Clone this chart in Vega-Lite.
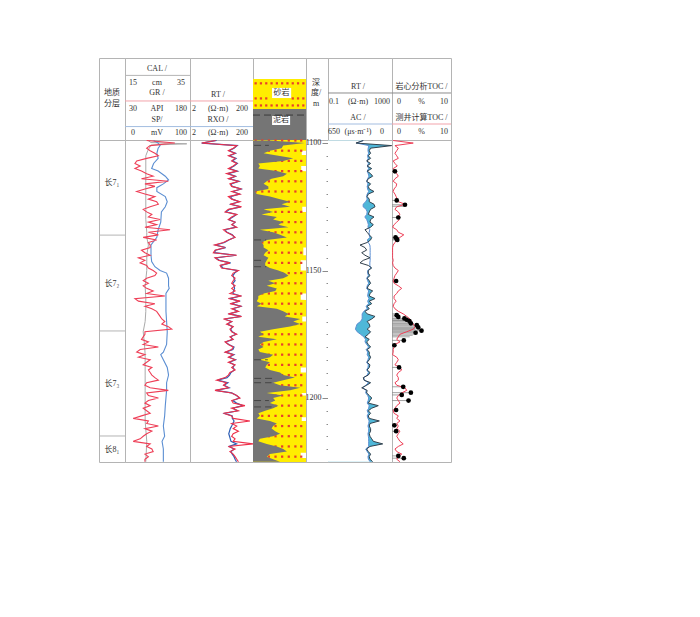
{"$schema":"https://vega.github.io/schema/vega-lite/v6.json","background":"white","padding":{"left":98,"top":57,"right":0,"bottom":0},"autosize":{"type":"pad"},"columns":7,"align":"each","spacing":0,"bounds":"flush","resolve":{"scale":{"color":"independent"}},
"config":{"view":{"stroke":"#b4b4b4","strokeWidth":1},"text":{"font":"Liberation Serif, Noto Sans CJK SC","fontSize":8,"color":"#333333"}},
"datasets":{
"log":[
{"depth":1099,"gr":80,"rt":13,"rxo":14,"mud":32,"rt2":16,"ac":291,"toc":0.2},
{"depth":1100,"gr":145,"rt":4.7,"rxo":4.7,"mud":98,"rt2":5.6,"ac":359,"toc":3.6},
{"depth":1101,"gr":88,"rt":61,"rxo":63,"mud":57,"rt2":950,"ac":235,"toc":0.5},
{"depth":1102,"gr":80,"rt":47,"rxo":50,"mud":54,"rt2":46,"ac":242,"toc":1.07},
{"depth":1103,"gr":88,"rt":33,"rxo":35,"mud":32,"rt2":38,"ac":244,"toc":0.8},
{"depth":1104,"gr":99,"rt":54,"rxo":56,"mud":20,"rt2":46,"ac":238,"toc":0.5},
{"depth":1105,"gr":107,"rt":33,"rxo":36,"mud":48,"rt2":33,"ac":248,"toc":0.8},
{"depth":1106,"gr":80,"rt":54,"rxo":58,"mud":76,"rt2":46,"ac":242,"toc":1.07},
{"depth":1107,"gr":57,"rt":42,"rxo":44,"mud":57,"rt2":26,"ac":252,"toc":0.2},
{"depth":1108,"gr":53,"rt":61,"rxo":64,"mud":10,"rt2":46,"ac":240,"toc":0.5},
{"depth":1109,"gr":65,"rt":47,"rxo":50,"mud":13,"rt2":28,"ac":250,"toc":0.9},
{"depth":1110,"gr":53,"rt":33,"rxo":36,"mud":10,"rt2":54,"ac":237,"toc":0.2},
{"depth":1111,"gr":68,"rt":61,"rxo":64,"mud":45,"rt2":28,"ac":252,"toc":0.5},
{"depth":1112,"gr":80,"rt":29,"rxo":32,"mud":64,"rt2":46,"ac":242,"toc":0.8},
{"depth":1113,"gr":95,"rt":54,"rxo":56,"mud":57,"rt2":62,"ac":234,"toc":1.07},
{"depth":1114,"gr":68,"rt":33,"rxo":36,"mud":35,"rt2":33,"ac":247,"toc":0.5},
{"depth":1115,"gr":130,"rt":69,"rxo":72,"mud":26,"rt2":26,"ac":257,"toc":0.2},
{"depth":1116,"gr":76,"rt":37,"rxo":40,"mud":20,"rt2":46,"ac":244,"toc":0.8},
{"depth":1117,"gr":99,"rt":42,"rxo":44,"mud":29,"rt2":33,"ac":252,"toc":0.7},
{"depth":1118,"gr":76,"rt":87,"rxo":84,"mud":29,"rt2":38,"ac":248,"toc":0.35},
{"depth":1119,"gr":57,"rt":42,"rxo":46,"mud":4,"rt2":75,"ac":237,"toc":0.2},
{"depth":1120,"gr":76,"rt":77,"rxo":74,"mud":7,"rt2":33,"ac":252,"toc":0.5},
{"depth":1121,"gr":99,"rt":33,"rxo":38,"mud":32,"rt2":28,"ac":258,"toc":0.7},
{"depth":1122,"gr":84,"rt":42,"rxo":44,"mud":51,"rt2":38,"ac":252,"toc":0.9},
{"depth":1123,"gr":103,"rt":77,"rxo":72,"mud":70,"rt2":38,"ac":267,"toc":1.07},
{"depth":1124,"gr":107,"rt":37,"rxo":40,"mud":54,"rt2":75,"ac":293,"toc":2.2},
{"depth":1125,"gr":88,"rt":87,"rxo":82,"mud":70,"rt2":87,"ac":293,"toc":0.8},
{"depth":1126,"gr":72,"rt":33,"rxo":36,"mud":20,"rt2":46,"ac":262,"toc":0.5},
{"depth":1127,"gr":80,"rt":26,"rxo":28,"mud":38,"rt2":38,"ac":252,"toc":1.07},
{"depth":1128,"gr":92,"rt":61,"rxo":60,"mud":16,"rt2":33,"ac":257,"toc":1.35},
{"depth":1129,"gr":84,"rt":42,"rxo":46,"mud":45,"rt2":75,"ac":276,"toc":0.8},
{"depth":1130,"gr":111,"rt":33,"rxo":34,"mud":38,"rt2":46,"ac":257,"toc":1.25},
{"depth":1131,"gr":84,"rt":54,"rxo":54,"mud":57,"rt2":42,"ac":247,"toc":0.8},
{"depth":1132,"gr":103,"rt":42,"rxo":44,"mud":48,"rt2":68,"ac":240,"toc":0.35},
{"depth":1133,"gr":76,"rt":61,"rxo":58,"mud":67,"rt2":46,"ac":244,"toc":0.1},
{"depth":1134,"gr":134,"rt":23,"rxo":26,"mud":13,"rt2":20.5,"ac":225,"toc":0.8},
{"depth":1135,"gr":84,"rt":29,"rxo":30,"mud":38,"rt2":28,"ac":232,"toc":1.07},
{"depth":1136,"gr":107,"rt":42,"rxo":44,"mud":51,"rt2":38,"ac":232,"toc":2.0},
{"depth":1137,"gr":72,"rt":54,"rxo":52,"mud":64,"rt2":54,"ac":225,"toc":1.35},
{"depth":1138,"gr":103,"rt":33,"rxo":34,"mud":26,"rt2":46,"ac":250,"toc":0.8},
{"depth":1139,"gr":84,"rt":23,"rxo":25,"mud":16,"rt2":28,"ac":240,"toc":0.5},
{"depth":1140,"gr":88,"rt":12,"rxo":13,"mud":20,"rt2":10,"ac":225,"toc":0.2},
{"depth":1141,"gr":88,"rt":26,"rxo":27,"mud":20,"rt2":20.5,"ac":222,"toc":0.1},
{"depth":1142,"gr":68,"rt":12.4,"rxo":13,"mud":29,"rt2":26,"ac":222,"toc":0.1},
{"depth":1143,"gr":76,"rt":11,"rxo":12,"mud":23,"rt2":12.8,"ac":222,"toc":0.1},
{"depth":1144,"gr":88,"rt":61,"rxo":58,"mud":20,"rt2":20.5,"ac":222,"toc":0.1},
{"depth":1145,"gr":61,"rt":12.4,"rxo":13,"mud":29,"rt2":42,"ac":222,"toc":0.1},
{"depth":1146,"gr":76,"rt":16,"rxo":17,"mud":26,"rt2":16,"ac":222,"toc":0.2},
{"depth":1147,"gr":65,"rt":37,"rxo":39,"mud":23,"rt2":10,"ac":225,"toc":0.1},
{"depth":1148,"gr":80,"rt":18,"rxo":19,"mud":23,"rt2":33,"ac":225,"toc":0.2},
{"depth":1149,"gr":84,"rt":20,"rxo":22,"mud":32,"rt2":54,"ac":216,"toc":0.5},
{"depth":1150,"gr":95,"rt":69,"rxo":66,"mud":48,"rt2":33,"ac":247,"toc":1.07},
{"depth":1151,"gr":103,"rt":47,"rxo":52,"mud":60,"rt2":33,"ac":247,"toc":0.8},
{"depth":1152,"gr":99,"rt":42,"rxo":46,"mud":67,"rt2":42,"ac":240,"toc":0.5},
{"depth":1153,"gr":80,"rt":54,"rxo":50,"mud":57,"rt2":28,"ac":257,"toc":0.35},
{"depth":1154,"gr":72,"rt":47,"rxo":54,"mud":29,"rt2":38,"ac":247,"toc":0.2},
{"depth":1155,"gr":84,"rt":42,"rxo":46,"mud":42,"rt2":46,"ac":237,"toc":0.35},
{"depth":1156,"gr":72,"rt":54,"rxo":50,"mud":26,"rt2":33,"ac":252,"toc":1.07},
{"depth":1157,"gr":80,"rt":42,"rxo":52,"mud":45,"rt2":28,"ac":257,"toc":1.65},
{"depth":1158,"gr":95,"rt":54,"rxo":48,"mud":42,"rt2":62,"ac":237,"toc":1.07},
{"depth":1159,"gr":80,"rt":37,"rxo":46,"mud":20,"rt2":42,"ac":244,"toc":0.8},
{"depth":1160,"gr":122,"rt":87,"rxo":78,"mud":10,"rt2":38,"ac":247,"toc":0.35},
{"depth":1161,"gr":53,"rt":33,"rxo":38,"mud":10,"rt2":87,"ac":234,"toc":0.35},
{"depth":1162,"gr":61,"rt":77,"rxo":72,"mud":7,"rt2":38,"ac":247,"toc":0.7},
{"depth":1163,"gr":99,"rt":37,"rxo":42,"mud":16,"rt2":54,"ac":237,"toc":0.35},
{"depth":1164,"gr":76,"rt":87,"rxo":82,"mud":7,"rt2":28,"ac":262,"toc":0.2},
{"depth":1165,"gr":92,"rt":42,"rxo":46,"mud":45,"rt2":38,"ac":252,"toc":0.5},
{"depth":1166,"gr":103,"rt":69,"rxo":66,"mud":57,"rt2":20.5,"ac":286,"toc":1.07},
{"depth":1167,"gr":107,"rt":33,"rxo":36,"mud":67,"rt2":28,"ac":303,"toc":1.9},
{"depth":1168,"gr":111,"rt":87,"rxo":84,"mud":60,"rt2":87,"ac":303,"toc":2.5},
{"depth":1169,"gr":115,"rt":23,"rxo":25,"mud":89,"rt2":54,"ac":303,"toc":3.05},
{"depth":1170,"gr":122,"rt":42,"rxo":42,"mud":76,"rt2":28,"ac":320,"toc":3.3},
{"depth":1171,"gr":115,"rt":29,"rxo":31,"mud":89,"rt2":38,"ac":354,"toc":3.6},
{"depth":1172,"gr":130,"rt":47,"rxo":46,"mud":70,"rt2":42,"ac":364,"toc":3.9},
{"depth":1173,"gr":138,"rt":37,"rxo":39,"mud":38,"rt2":28,"ac":371,"toc":3.6},
{"depth":1174,"gr":76,"rt":42,"rxo":44,"mud":13,"rt2":46,"ac":354,"toc":2.5},
{"depth":1175,"gr":76,"rt":61,"rxo":58,"mud":20,"rt2":33,"ac":320,"toc":1.35},
{"depth":1176,"gr":72,"rt":37,"rxo":39,"mud":10,"rt2":20.5,"ac":286,"toc":1.07},
{"depth":1177,"gr":68,"rt":47,"rxo":46,"mud":45,"rt2":38,"ac":269,"toc":0.8},
{"depth":1178,"gr":84,"rt":26,"rxo":27,"mud":20,"rt2":26,"ac":274,"toc":1.35},
{"depth":1179,"gr":72,"rt":33,"rxo":34,"mud":13,"rt2":33,"ac":257,"toc":0.5},
{"depth":1180,"gr":107,"rt":47,"rxo":50,"mud":20,"rt2":46,"ac":237,"toc":0.35},
{"depth":1181,"gr":65,"rt":42,"rxo":46,"mud":10,"rt2":28,"ac":262,"toc":0.2},
{"depth":1182,"gr":57,"rt":26,"rxo":27,"mud":13,"rt2":38,"ac":247,"toc":0.2},
{"depth":1183,"gr":76,"rt":47,"rxo":50,"mud":38,"rt2":38,"ac":252,"toc":0.1},
{"depth":1184,"gr":61,"rt":33,"rxo":35,"mud":32,"rt2":46,"ac":237,"toc":0.8},
{"depth":1185,"gr":88,"rt":54,"rxo":56,"mud":13,"rt2":38,"ac":244,"toc":1.07},
{"depth":1186,"gr":80,"rt":33,"rxo":36,"mud":32,"rt2":28,"ac":257,"toc":0.8},
{"depth":1187,"gr":72,"rt":54,"rxo":52,"mud":26,"rt2":42,"ac":240,"toc":0.5},
{"depth":1188,"gr":92,"rt":42,"rxo":46,"mud":23,"rt2":38,"ac":244,"toc":1.35},
{"depth":1189,"gr":84,"rt":54,"rxo":52,"mud":32,"rt2":28,"ac":257,"toc":1.65},
{"depth":1190,"gr":88,"rt":37,"rxo":40,"mud":51,"rt2":42,"ac":240,"toc":1.07},
{"depth":1191,"gr":92,"rt":33,"rxo":36,"mud":57,"rt2":33,"ac":252,"toc":0.8},
{"depth":1192,"gr":99,"rt":26,"rxo":30,"mud":79,"rt2":16,"ac":286,"toc":1.07},
{"depth":1193,"gr":107,"rt":14,"rxo":15,"mud":57,"rt2":18,"ac":282,"toc":1.07},
{"depth":1194,"gr":80,"rt":29,"rxo":32,"mud":38,"rt2":46,"ac":237,"toc":0.5},
{"depth":1195,"gr":76,"rt":23,"rxo":24,"mud":51,"rt2":26,"ac":267,"toc":0.8},
{"depth":1196,"gr":88,"rt":33,"rxo":35,"mud":89,"rt2":12.8,"ac":297,"toc":2.2},
{"depth":1197,"gr":130,"rt":12.4,"rxo":13,"mud":70,"rt2":28,"ac":262,"toc":2.5},
{"depth":1198,"gr":80,"rt":42,"rxo":42,"mud":26,"rt2":26,"ac":267,"toc":1.65},
{"depth":1199,"gr":84,"rt":61,"rxo":60,"mud":57,"rt2":38,"ac":247,"toc":1.07},
{"depth":1200,"gr":107,"rt":77,"rxo":74,"mud":38,"rt2":54,"ac":237,"toc":0.8},
{"depth":1201,"gr":84,"rt":42,"rxo":46,"mud":42,"rt2":42,"ac":242,"toc":1.07},
{"depth":1202,"gr":76,"rt":47,"rxo":60,"mud":32,"rt2":33,"ac":252,"toc":1.35},
{"depth":1203,"gr":88,"rt":111,"rxo":95,"mud":48,"rt2":139,"ac":232,"toc":0.8},
{"depth":1204,"gr":72,"rt":42,"rxo":46,"mud":38,"rt2":54,"ac":237,"toc":0.5},
{"depth":1205,"gr":80,"rt":69,"rxo":64,"mud":23,"rt2":33,"ac":252,"toc":0.2},
{"depth":1206,"gr":88,"rt":23,"rxo":25,"mud":10,"rt2":46,"ac":240,"toc":0.35},
{"depth":1207,"gr":68,"rt":42,"rxo":44,"mud":13,"rt2":33,"ac":252,"toc":1.07},
{"depth":1208,"gr":49,"rt":47,"rxo":44,"mud":7,"rt2":38,"ac":244,"toc":0.8},
{"depth":1209,"gr":84,"rt":160,"rxo":50,"mud":32,"rt2":162,"ac":232,"toc":1.35},
{"depth":1210,"gr":80,"rt":42,"rxo":46,"mud":45,"rt2":42,"ac":237,"toc":0.8},
{"depth":1211,"gr":107,"rt":61,"rxo":42,"mud":38,"rt2":38,"ac":244,"toc":1.07},
{"depth":1212,"gr":76,"rt":47,"rxo":38,"mud":35,"rt2":46,"ac":237,"toc":0.8},
{"depth":1213,"gr":92,"rt":69,"rxo":36,"mud":42,"rt2":46,"ac":237,"toc":1.35},
{"depth":1214,"gr":80,"rt":47,"rxo":34,"mud":51,"rt2":38,"ac":244,"toc":1.07},
{"depth":1215,"gr":72,"rt":42,"rxo":36,"mud":38,"rt2":42,"ac":240,"toc":0.8},
{"depth":1216,"gr":65,"rt":54,"rxo":38,"mud":13,"rt2":54,"ac":237,"toc":1.07},
{"depth":1217,"gr":49,"rt":47,"rxo":40,"mud":10,"rt2":68,"ac":237,"toc":1.35},
{"depth":1218,"gr":88,"rt":200,"rxo":60,"mud":26,"rt2":262,"ac":237,"toc":1.9},
{"depth":1219,"gr":80,"rt":33,"rxo":35,"mud":45,"rt2":42,"ac":237,"toc":1.07},
{"depth":1220,"gr":92,"rt":54,"rxo":50,"mud":57,"rt2":26,"ac":267,"toc":0.5},
{"depth":1221,"gr":95,"rt":37,"rxo":40,"mud":64,"rt2":33,"ac":252,"toc":0.8},
{"depth":1222,"gr":76,"rt":47,"rxo":44,"mud":32,"rt2":46,"ac":234,"toc":1.65},
{"depth":1223,"gr":84,"rt":54,"rxo":50,"mud":26,"rt2":38,"ac":244,"toc":1.07},
{"depth":1224,"gr":76,"rt":61,"rxo":54,"mud":38,"rt2":42,"ac":240,"toc":0.8},
{"depth":1225,"gr":76,"rt":69,"rxo":60,"mud":51,"rt2":62,"ac":222,"toc":1.35}
],
"sp":[{"depth":1099,"sp":44},{"depth":1100,"sp":51},{"depth":1101,"sp":54},{"depth":1102,"sp":51},{"depth":1104,"sp":49},{"depth":1106,"sp":51},{"depth":1108,"sp":44},{"depth":1110,"sp":41},{"depth":1111,"sp":51},{"depth":1113,"sp":62},{"depth":1114.5,"sp":67},{"depth":1116,"sp":59},{"depth":1117.5,"sp":49},{"depth":1119,"sp":49},{"depth":1121,"sp":62},{"depth":1123,"sp":65},{"depth":1125,"sp":62},{"depth":1127,"sp":56},{"depth":1131,"sp":55},{"depth":1134,"sp":51},{"depth":1137,"sp":49},{"depth":1140,"sp":40},{"depth":1144,"sp":40},{"depth":1146.5,"sp":41},{"depth":1148.5,"sp":46},{"depth":1150,"sp":54},{"depth":1151,"sp":64},{"depth":1153,"sp":67},{"depth":1156,"sp":67},{"depth":1157,"sp":68},{"depth":1159,"sp":63},{"depth":1166,"sp":63},{"depth":1174,"sp":65},{"depth":1179,"sp":64},{"depth":1182,"sp":59},{"depth":1183,"sp":55},{"depth":1185,"sp":59},{"depth":1188,"sp":65},{"depth":1191,"sp":67},{"depth":1194,"sp":64},{"depth":1197,"sp":64},{"depth":1200,"sp":63},{"depth":1203,"sp":62},{"depth":1207,"sp":61},{"depth":1211,"sp":59},{"depth":1215,"sp":61},{"depth":1217,"sp":57},{"depth":1220,"sp":59},{"depth":1225,"sp":59}],
"cal":[{"depth":1098.9,"cal":22},{"depth":1099.8,"cal":23},{"depth":1100.3,"cal":34},{"depth":1100.8,"cal":23},{"depth":1103,"cal":22},{"depth":1105,"cal":21.4},{"depth":1111,"cal":21.4},{"depth":1118,"cal":21.4},{"depth":1126,"cal":21.4},{"depth":1130,"cal":21.4},{"depth":1135,"cal":21.7},{"depth":1137,"cal":21.7},{"depth":1140,"cal":22.2},{"depth":1144,"cal":21.7},{"depth":1150,"cal":21.7},{"depth":1156,"cal":21.2},{"depth":1161,"cal":21.4},{"depth":1166,"cal":21.4},{"depth":1170,"cal":21.2},{"depth":1174,"cal":20.6},{"depth":1179,"cal":21},{"depth":1183,"cal":21.2},{"depth":1191,"cal":21.2},{"depth":1197,"cal":21.2},{"depth":1203,"cal":21.2},{"depth":1209,"cal":21.2},{"depth":1217,"cal":21.7},{"depth":1225,"cal":21.4}],
"yellow":[{"depth":1098.8,"edge":100},{"depth":1103,"edge":100},{"depth":1103.01,"edge":92},{"depth":1104.7,"edge":92},{"depth":1104.71,"edge":100},{"depth":1109,"edge":100},{"depth":1109.01,"edge":91},{"depth":1111,"edge":91},{"depth":1111.01,"edge":100},{"depth":1125,"edge":100},{"depth":1125.01,"edge":93},{"depth":1127,"edge":93},{"depth":1127.01,"edge":100},{"depth":1141,"edge":100},{"depth":1141.01,"edge":95},{"depth":1144,"edge":95},{"depth":1144.01,"edge":100},{"depth":1146,"edge":100},{"depth":1146.01,"edge":90},{"depth":1150,"edge":90},{"depth":1150.01,"edge":100},{"depth":1159,"edge":100},{"depth":1159.01,"edge":90},{"depth":1161.5,"edge":90},{"depth":1161.51,"edge":100},{"depth":1168,"edge":100},{"depth":1168.01,"edge":93},{"depth":1170,"edge":93},{"depth":1170.01,"edge":100},{"depth":1188,"edge":100},{"depth":1188.01,"edge":90},{"depth":1190,"edge":90},{"depth":1190.01,"edge":100},{"depth":1198,"edge":100},{"depth":1198.01,"edge":92},{"depth":1199,"edge":92},{"depth":1199.01,"edge":100},{"depth":1207.5,"edge":100},{"depth":1207.51,"edge":92},{"depth":1209,"edge":92},{"depth":1209.01,"edge":100},{"depth":1221.5,"edge":100},{"depth":1221.51,"edge":90},{"depth":1223.5,"edge":90},{"depth":1223.51,"edge":100},{"depth":1225.1,"edge":100}],
"dots":[{"depth":1099,"xs":[5,17.5,30,42.5,55,67.5,80,91]},{"depth":1103,"xs":[5,17.5,30,42.5,55,67.5,80,91]},{"depth":1107,"xs":[5,17.5,30,42.5,55,67.5,80,91]},{"depth":1111,"xs":[5,17.5,30,42.5,55,67.5,80,91]},{"depth":1115,"xs":[5,17.5,30,42.5,55,67.5,80,91]},{"depth":1119,"xs":[5,17.5,30,42.5,55,67.5,80,91]},{"depth":1123,"xs":[5,17.5,30,42.5,55,67.5,80,91]},{"depth":1127,"xs":[5,17.5,30,42.5,55,67.5,80,91]},{"depth":1131,"xs":[5,17.5,30,42.5,55,67.5,80,91]},{"depth":1135,"xs":[5,17.5,30,42.5,55,67.5,80,91]},{"depth":1139,"xs":[5,17.5,30,42.5,55,67.5,80,91]},{"depth":1143,"xs":[5,17.5,30,42.5,55,67.5,80,91]},{"depth":1147,"xs":[5,17.5,30,42.5,55,67.5,80,91]},{"depth":1151,"xs":[5,17.5,30,42.5,55,67.5,80,91]},{"depth":1155,"xs":[5,17.5,30,42.5,55,67.5,80,91]},{"depth":1159,"xs":[5,17.5,30,42.5,55,67.5,80,91]},{"depth":1163,"xs":[5,17.5,30,42.5,55,67.5,80,91]},{"depth":1167,"xs":[5,17.5,30,42.5,55,67.5,80,91]},{"depth":1171,"xs":[5,17.5,30,42.5,55,67.5,80,91]},{"depth":1175,"xs":[5,17.5,30,42.5,55,67.5,80,91]},{"depth":1179,"xs":[5,17.5,30,42.5,55,67.5,80,91]},{"depth":1183,"xs":[5,17.5,30,42.5,55,67.5,80,91]},{"depth":1187,"xs":[5,17.5,30,42.5,55,67.5,80,91]},{"depth":1191,"xs":[5,17.5,30,42.5,55,67.5,80,91]},{"depth":1195,"xs":[5,17.5,30,42.5,55,67.5,80,91]},{"depth":1199,"xs":[5,17.5,30,42.5,55,67.5,80,91]},{"depth":1203,"xs":[5,17.5,30,42.5,55,67.5,80,91]},{"depth":1207,"xs":[5,17.5,30,42.5,55,67.5,80,91]},{"depth":1211,"xs":[5,17.5,30,42.5,55,67.5,80,91]},{"depth":1215,"xs":[5,17.5,30,42.5,55,67.5,80,91]},{"depth":1219,"xs":[5,17.5,30,42.5,55,67.5,80,91]},{"depth":1223,"xs":[5,17.5,30,42.5,55,67.5,80,91]}],
"core":[{"depth":1111.1,"toc":0.5},{"depth":1122.5,"toc":0.8},{"depth":1124.2,"toc":2.2},{"depth":1129.2,"toc":1.07},{"depth":1137,"toc":0.6},{"depth":1137.6,"toc":0.8},{"depth":1138,"toc":0.9},{"depth":1154.1,"toc":0.7},{"depth":1167.5,"toc":0.8},{"depth":1168.2,"toc":1.07},{"depth":1168.8,"toc":2.1},{"depth":1169.3,"toc":2.5},{"depth":1169.8,"toc":2.95},{"depth":1170.7,"toc":3.2},{"depth":1171.4,"toc":4.2},{"depth":1172.3,"toc":4.45},{"depth":1173.6,"toc":5},{"depth":1174.4,"toc":4},{"depth":1177.4,"toc":2},{"depth":1179.3,"toc":0.4},{"depth":1188,"toc":1.2},{"depth":1195.6,"toc":1.9},{"depth":1197.9,"toc":3.2},{"depth":1198.8,"toc":1.65},{"depth":1201,"toc":2.8},{"depth":1204.7,"toc":0.7},{"depth":1210.7,"toc":0.4},{"depth":1213,"toc":0.7},{"depth":1222.7,"toc":1.07},{"depth":1223.6,"toc":2}],
"corebars":[{"depth":1124.8,"toc":2.2},{"depth":1167,"toc":1},{"depth":1169.6,"toc":3},{"depth":1170.2,"toc":3.2},{"depth":1171,"toc":3.6},{"depth":1171.8,"toc":3.9},{"depth":1172.7,"toc":4},{"depth":1173.1,"toc":4},{"depth":1174,"toc":4},{"depth":1174.9,"toc":3.8},{"depth":1175.4,"toc":3.5},{"depth":1176,"toc":3}]
},
"concat":[
{"width":26,"height":82,"data":{"values":[{"t":"地质","pos":"center","row":2.9},{"t":"分层","pos":"center","row":3.7}]},"mark":"text","encoding":{"text":{"field":"t"},"x":{"field":"pos","type":"nominal","axis":null,"scale":{"type":"point","padding":0,"domain":["center"],"range":[13,13]}},"y":{"field":"row","type":"quantitative","axis":null,"scale":{"domain":[0.14,6.55],"reverse":true,"nice":false,"zero":false}}}},
{"width":65,"height":82,"layer":[
{"data":{"values":[{"row":1.5,"c":"cal"},{"row":3.5,"c":"gr"},{"row":5.5,"c":"sp"}]},"mark":{"type":"rule","strokeWidth":1},"encoding":{"y":{"field":"row","type":"quantitative","axis":null,"scale":{"domain":[0.14,6.55],"reverse":true,"nice":false,"zero":false}},"color":{"field":"c","type":"nominal","legend":null,"scale":{"domain":["cal","gr","sp"],"range":["#b4b4b4","#f2a3ab","#a3bde0"]}}}},
{"data":{"values":[{"t":"CAL  /","pos":"center","row":1},{"t":"15","pos":"left","row":2.1},{"t":"cm","pos":"center","row":2.1},{"t":"35","pos":"right","row":2.1},{"t":"GR /","pos":"center","row":2.9},{"t":"30","pos":"left","row":4.1},{"t":"API","pos":"center","row":4.1},{"t":"180","pos":"right","row":4.1},{"t":"SP/","pos":"center","row":5},{"t":"0","pos":"left","row":6},{"t":"mV","pos":"center","row":6},{"t":"100","pos":"right","row":6}]},"mark":"text","encoding":{"text":{"field":"t"},"x":{"field":"pos","type":"nominal","axis":null,"scale":{"type":"point","padding":0,"domain":["left","center","right"],"range":[8,56]}},"y":{"field":"row","type":"quantitative","axis":null,"scale":{"domain":[0.14,6.55],"reverse":true,"nice":false,"zero":false}}}}
]},
{"width":63,"height":82,"layer":[
{"data":{"values":[{"row":3.5,"c":"rt"},{"row":5.5,"c":"rxo"}]},"mark":{"type":"rule","strokeWidth":1},"encoding":{"y":{"field":"row","type":"quantitative","axis":null,"scale":{"domain":[0.14,6.55],"reverse":true,"nice":false,"zero":false}},"color":{"field":"c","type":"nominal","legend":null,"scale":{"domain":["rt","rxo"],"range":["#f2a3ab","#a3bde0"]}}}},
{"data":{"values":[{"t":"RT  /","pos":"center","row":3},{"t":"2","pos":"left","row":4.1},{"t":"(Ω·m)","pos":"center","row":4.1},{"t":"200","pos":"right","row":4.1},{"t":"RXO  /","pos":"center","row":5},{"t":"2","pos":"left","row":6},{"t":"(Ω·m)","pos":"center","row":6},{"t":"200","pos":"right","row":6}]},"mark":"text","encoding":{"text":{"field":"t"},"x":{"field":"pos","type":"nominal","axis":null,"scale":{"type":"point","padding":0,"domain":["left","center","right"],"range":[4,52]}},"y":{"field":"row","type":"quantitative","axis":null,"scale":{"domain":[0.14,6.55],"reverse":true,"nice":false,"zero":false}}}}
]},
{"width":53,"height":82,"layer":[
{"data":{"values":[{"top":1.78,"base":4.125,"lith":"砂岩"},{"top":4.125,"base":6.55,"lith":"泥岩"}]},"mark":"rect","encoding":{"y":{"field":"top","type":"quantitative","axis":null,"scale":{"domain":[0.14,6.55],"reverse":true,"nice":false,"zero":false}},"y2":{"field":"base"},"color":{"field":"lith","type":"nominal","legend":null,"scale":{"domain":["砂岩","泥岩"],"range":["#ffed00","#757575"]}}}},
{"data":{"values":[{"row":2.12,"xs":[5,15,25,35,45,55,65,75,85,95]},{"row":3.3,"xs":[5,15,25,75,85,95]},{"row":3.85,"xs":[5,15,25,35,45,55,65,75,85,95]}]},"transform":[{"flatten":["xs"]}],"mark":{"type":"point","shape":"square","filled":true,"size":5,"color":"#e8402a","opacity":1},"encoding":{"x":{"field":"xs","type":"quantitative","axis":null,"scale":{"domain":[0,100],"nice":false}},"y":{"field":"row","type":"quantitative","axis":null,"scale":{"domain":[0.14,6.55],"reverse":true,"nice":false,"zero":false}}}},
{"data":{"values":[{"a":0,"b":100,"row":4.6}]},"mark":{"type":"rule","color":"#3a3a3a","strokeDash":[7,4],"strokeWidth":1},"encoding":{"x":{"field":"a","type":"quantitative","axis":null,"scale":{"domain":[0,100],"nice":false}},"x2":{"field":"b"},"y":{"field":"row","type":"quantitative","axis":null,"scale":{"domain":[0.14,6.55],"reverse":true,"nice":false,"zero":false}}}},
{"data":{"values":[{"a":36,"b":72,"top":2.48,"base":3.27},{"a":36,"b":70,"top":4.67,"base":5.375}]},"mark":{"type":"rect","color":"white"},"encoding":{"x":{"field":"a","type":"quantitative","axis":null,"scale":{"domain":[0,100],"nice":false}},"x2":{"field":"b"},"y":{"field":"top","type":"quantitative","axis":null,"scale":{"domain":[0.14,6.55],"reverse":true,"nice":false,"zero":false}},"y2":{"field":"base"}}},
{"data":{"values":[{"t":"砂岩","p":54,"row":2.88},{"t":"泥岩","p":53,"row":5.02}]},"mark":"text","encoding":{"text":{"field":"t"},"x":{"field":"p","type":"quantitative","axis":null,"scale":{"domain":[0,100],"nice":false}},"y":{"field":"row","type":"quantitative","axis":null,"scale":{"domain":[0.14,6.55],"reverse":true,"nice":false,"zero":false}}}}
]},
{"width":22,"height":82,"data":{"values":[{"t":"深","pos":"center","row":2.1},{"t":"度/","pos":"center","row":2.9},{"t":"m","pos":"center","row":3.7}]},"mark":"text","encoding":{"text":{"field":"t"},"x":{"field":"pos","type":"nominal","axis":null,"scale":{"type":"point","padding":0,"domain":["center"],"range":[10,10]}},"y":{"field":"row","type":"quantitative","axis":null,"scale":{"domain":[0.14,6.55],"reverse":true,"nice":false,"zero":false}}}},
{"width":64,"height":82,"layer":[
{"data":{"values":[{"row":2.875,"c":"rt"},{"row":5.3,"c":"ac"}]},"mark":{"type":"rule","strokeWidth":1},"encoding":{"y":{"field":"row","type":"quantitative","axis":null,"scale":{"domain":[0.14,6.55],"reverse":true,"nice":false,"zero":false}},"color":{"field":"c","type":"nominal","legend":null,"scale":{"domain":["rt","ac"],"range":["#8c8c8c","#a3bde0"]}}}},
{"data":{"values":[{"t":"RT  /","pos":"center","row":2.4},{"t":"0.1","pos":"left","row":3.58},{"t":"(Ω·m)","pos":"center","row":3.58},{"t":"1000","pos":"right","row":3.58},{"t":"AC  /","pos":"center","row":4.83},{"t":"650","pos":"left","row":5.92},{"t":"(μs·m⁻¹)","pos":"center","row":5.92},{"t":"0","pos":"right","row":5.92}]},"mark":"text","encoding":{"text":{"field":"t"},"x":{"field":"pos","type":"nominal","axis":null,"scale":{"type":"point","padding":0,"domain":["left","center","right"],"range":[6,54]}},"y":{"field":"row","type":"quantitative","axis":null,"scale":{"domain":[0.14,6.55],"reverse":true,"nice":false,"zero":false}}}}
]},
{"width":59,"height":82,"layer":[
{"data":{"values":[{"row":2.875,"c":"core"},{"row":5.3,"c":"log"}]},"mark":{"type":"rule","strokeWidth":1},"encoding":{"y":{"field":"row","type":"quantitative","axis":null,"scale":{"domain":[0.14,6.55],"reverse":true,"nice":false,"zero":false}},"color":{"field":"c","type":"nominal","legend":null,"scale":{"domain":["core","log"],"range":["#8c8c8c","#f2a3ab"]}}}},
{"data":{"values":[{"t":"岩心分析TOC  /","pos":"center","row":2.4},{"t":"0","pos":"left","row":3.58},{"t":"%","pos":"center","row":3.58},{"t":"10","pos":"right","row":3.58},{"t":"测井计算TOC  /","pos":"center","row":4.83},{"t":"0","pos":"left","row":5.92},{"t":"%","pos":"center","row":5.92},{"t":"10","pos":"right","row":5.92}]},"mark":"text","encoding":{"text":{"field":"t"},"x":{"field":"pos","type":"nominal","axis":null,"scale":{"type":"point","padding":0,"domain":["left","center","right"],"range":[7,52]}},"y":{"field":"row","type":"quantitative","axis":null,"scale":{"domain":[0.14,6.55],"reverse":true,"nice":false,"zero":false}}}}
]},
{"width":26,"height":322,"layer":[
{"data":{"values":[{"base":1136.1},{"base":1173.7},{"base":1214.9}]},"mark":{"type":"rule","color":"#b4b4b4","strokeWidth":1},"encoding":{"y":{"field":"base","type":"quantitative","axis":null,"scale":{"domain":[1098.8,1225.1],"reverse":true,"nice":false,"zero":false}}}},
{"data":{"values":[{"name":"长7₁","mid":1115.7},{"name":"长7₂","mid":1155.3},{"name":"长7₃","mid":1194.5},{"name":"长8₁","mid":1220.4}]},"mark":"text","encoding":{"text":{"field":"name"},"y":{"field":"mid","type":"quantitative","axis":null,"scale":{"domain":[1098.8,1225.1],"reverse":true,"nice":false,"zero":false}}}}
]},
{"width":65,"height":322,"resolve":{"scale":{"x":"independent"}},"layer":[
{"data":{"name":"cal"},"mark":{"type":"line","color":"#aaaaaa","strokeWidth":1,"clip":true},"encoding":{"x":{"field":"cal","type":"quantitative","axis":null,"scale":{"domain":[15,35],"nice":false,"zero":false}},"y":{"field":"depth","type":"quantitative","axis":null,"scale":{"domain":[1098.8,1225.1],"reverse":true,"nice":false,"zero":false}},"order":{"field":"depth"}}},
{"data":{"name":"sp"},"mark":{"type":"line","color":"#5b8ed2","strokeWidth":1.1,"clip":true},"encoding":{"x":{"field":"sp","type":"quantitative","axis":null,"scale":{"domain":[0,100],"nice":false,"zero":false}},"y":{"field":"depth","type":"quantitative","axis":null,"scale":{"domain":[1098.8,1225.1],"reverse":true,"nice":false,"zero":false}},"order":{"field":"depth"}}},
{"data":{"name":"log"},"mark":{"type":"line","color":"#ee3f57","strokeWidth":1.1,"clip":true},"encoding":{"x":{"field":"gr","type":"quantitative","axis":null,"scale":{"domain":[30,180],"nice":false,"zero":false}},"y":{"field":"depth","type":"quantitative","axis":null,"scale":{"domain":[1098.8,1225.1],"reverse":true,"nice":false,"zero":false}},"order":{"field":"depth"}}}
]},
{"width":63,"height":322,"data":{"name":"log"},"layer":[
{"mark":{"type":"line","color":"#2f5fb5","strokeWidth":1.2,"clip":true},"encoding":{"x":{"field":"rxo","type":"quantitative","axis":null,"scale":{"type":"log","domain":[2,200],"nice":false}},"y":{"field":"depth","type":"quantitative","axis":null,"scale":{"domain":[1098.8,1225.1],"reverse":true,"nice":false,"zero":false}},"order":{"field":"depth"}}},
{"mark":{"type":"line","color":"#ee2f4a","strokeWidth":1.1,"clip":true},"encoding":{"x":{"field":"rt","type":"quantitative","axis":null,"scale":{"type":"log","domain":[2,200],"nice":false}},"y":{"field":"depth","type":"quantitative","axis":null,"scale":{"domain":[1098.8,1225.1],"reverse":true,"nice":false,"zero":false}},"order":{"field":"depth"}}}
]},
{"width":53,"height":322,"layer":[
{"data":{"name":"yellow"},"mark":{"type":"area","orient":"horizontal","color":"#ffed00"},"encoding":{"x":{"field":"edge","type":"quantitative","axis":null,"stack":null,"scale":{"domain":[0,100],"nice":false}},"x2":{"value":0},"y":{"field":"depth","type":"quantitative","axis":null,"scale":{"domain":[1098.8,1225.1],"reverse":true,"nice":false,"zero":false}}}},
{"data":{"name":"dots"},"transform":[{"flatten":["xs"]}],"mark":{"type":"point","shape":"square","filled":true,"size":5,"color":"#e8402a","opacity":1},"encoding":{"x":{"field":"xs","type":"quantitative","axis":null,"scale":{"domain":[0,100],"nice":false}},"y":{"field":"depth","type":"quantitative","axis":null,"scale":{"domain":[1098.8,1225.1],"reverse":true,"nice":false,"zero":false}}}},
{"data":{"name":"log"},"mark":{"type":"area","orient":"horizontal","color":"#757575"},"encoding":{"x":{"field":"mud","type":"quantitative","axis":null,"stack":null,"scale":{"domain":[0,100],"nice":false}},"x2":{"value":0},"y":{"field":"depth","type":"quantitative","axis":null,"scale":{"domain":[1098.8,1225.1],"reverse":true,"nice":false,"zero":false}}}},
{"data":{"values":[{"depth":1100.9,"a":2,"b":30},{"depth":1138,"a":2,"b":25},{"depth":1146,"a":2,"b":22},{"depth":1148.5,"a":2,"b":25},{"depth":1185,"a":2,"b":28},{"depth":1192.3,"a":2,"b":40},{"depth":1194,"a":2,"b":35},{"depth":1201,"a":2,"b":30},{"depth":1203.5,"a":2,"b":35}]},"mark":{"type":"rule","color":"#3a3a3a","strokeDash":[7,4],"strokeWidth":0.8},"encoding":{"x":{"field":"a","type":"quantitative","axis":null,"scale":{"domain":[0,100],"nice":false}},"x2":{"field":"b"},"y":{"field":"depth","type":"quantitative","axis":null,"scale":{"domain":[1098.8,1225.1],"reverse":true,"nice":false,"zero":false}}}}
]},
{"width":22,"height":322,"data":{"values":[{"label":"1100","depth":1100},{"label":"1150","depth":1150},{"label":"1200","depth":1200}]},"mark":{"type":"text","fontSize":8},"encoding":{"text":{"field":"label"},"x":{"value":7.5},"y":{"field":"depth","type":"quantitative","scale":{"domain":[1098.8,1225.1],"reverse":true,"nice":false,"zero":false},"axis":{"orient":"right","title":null,"domain":false,"labels":false,"grid":false,"tickColor":"#8c8c8c","tickSize":{"condition":{"test":"datum.value % 50 === 0","value":-6},"value":-2},"values":[1100,1105,1110,1115,1120,1125,1130,1135,1140,1145,1150,1155,1160,1165,1170,1175,1180,1185,1190,1195,1200,1205,1210,1215,1220]}}}},
{"width":64,"height":322,"data":{"name":"log"},"resolve":{"scale":{"x":"independent"}},"layer":[
{"mark":{"type":"area","orient":"horizontal","color":"#4fb7d8","clip":true},"encoding":{"x":{"field":"rt2","type":"quantitative","axis":null,"stack":null,"scale":{"type":"log","domain":[0.1,1000],"nice":false}},"x2":{"value":0},"y":{"field":"depth","type":"quantitative","axis":null,"scale":{"domain":[1098.8,1225.1],"reverse":true,"nice":false,"zero":false}}}},
{"mark":{"type":"area","orient":"horizontal","color":"white","clip":true},"encoding":{"x":{"field":"ac","type":"quantitative","axis":null,"stack":null,"scale":{"domain":[650,0],"nice":false,"zero":false}},"x2":{"value":0},"y":{"field":"depth","type":"quantitative","axis":null,"scale":{"domain":[1098.8,1225.1],"reverse":true,"nice":false,"zero":false}}}},
{"mark":{"type":"line","color":"#5b8ed2","strokeWidth":1,"clip":true},"encoding":{"x":{"field":"ac","type":"quantitative","axis":null,"scale":{"domain":[650,0],"nice":false,"zero":false}},"y":{"field":"depth","type":"quantitative","axis":null,"scale":{"domain":[1098.8,1225.1],"reverse":true,"nice":false,"zero":false}},"order":{"field":"depth"}}},
{"mark":{"type":"line","color":"#33414d","strokeWidth":1,"clip":true},"encoding":{"x":{"field":"rt2","type":"quantitative","axis":null,"scale":{"type":"log","domain":[0.1,1000],"nice":false}},"y":{"field":"depth","type":"quantitative","axis":null,"scale":{"domain":[1098.8,1225.1],"reverse":true,"nice":false,"zero":false}},"order":{"field":"depth"}}}
]},
{"width":59,"height":322,"layer":[
{"data":{"name":"corebars"},"mark":{"type":"rule","color":"#8a8a8a","strokeWidth":0.8},"encoding":{"x":{"field":"toc","type":"quantitative","axis":null,"scale":{"domain":[0,10],"nice":false}},"x2":{"value":0},"y":{"field":"depth","type":"quantitative","axis":null,"scale":{"domain":[1098.8,1225.1],"reverse":true,"nice":false,"zero":false}}}},
{"data":{"name":"core"},"mark":{"type":"rule","color":"#8a8a8a","strokeWidth":0.8},"encoding":{"x":{"field":"toc","type":"quantitative","axis":null,"scale":{"domain":[0,10],"nice":false}},"x2":{"value":0},"y":{"field":"depth","type":"quantitative","axis":null,"scale":{"domain":[1098.8,1225.1],"reverse":true,"nice":false,"zero":false}}}},
{"data":{"name":"log"},"mark":{"type":"line","color":"#ee3f57","strokeWidth":1,"clip":true},"encoding":{"x":{"field":"toc","type":"quantitative","axis":null,"scale":{"domain":[0,10],"nice":false}},"y":{"field":"depth","type":"quantitative","axis":null,"scale":{"domain":[1098.8,1225.1],"reverse":true,"nice":false,"zero":false}},"order":{"field":"depth"}}},
{"data":{"name":"core"},"mark":{"type":"circle","color":"black","size":22,"opacity":1},"encoding":{"x":{"field":"toc","type":"quantitative","axis":null,"scale":{"domain":[0,10],"nice":false}},"y":{"field":"depth","type":"quantitative","axis":null,"scale":{"domain":[1098.8,1225.1],"reverse":true,"nice":false,"zero":false}}}}
]}
]}
